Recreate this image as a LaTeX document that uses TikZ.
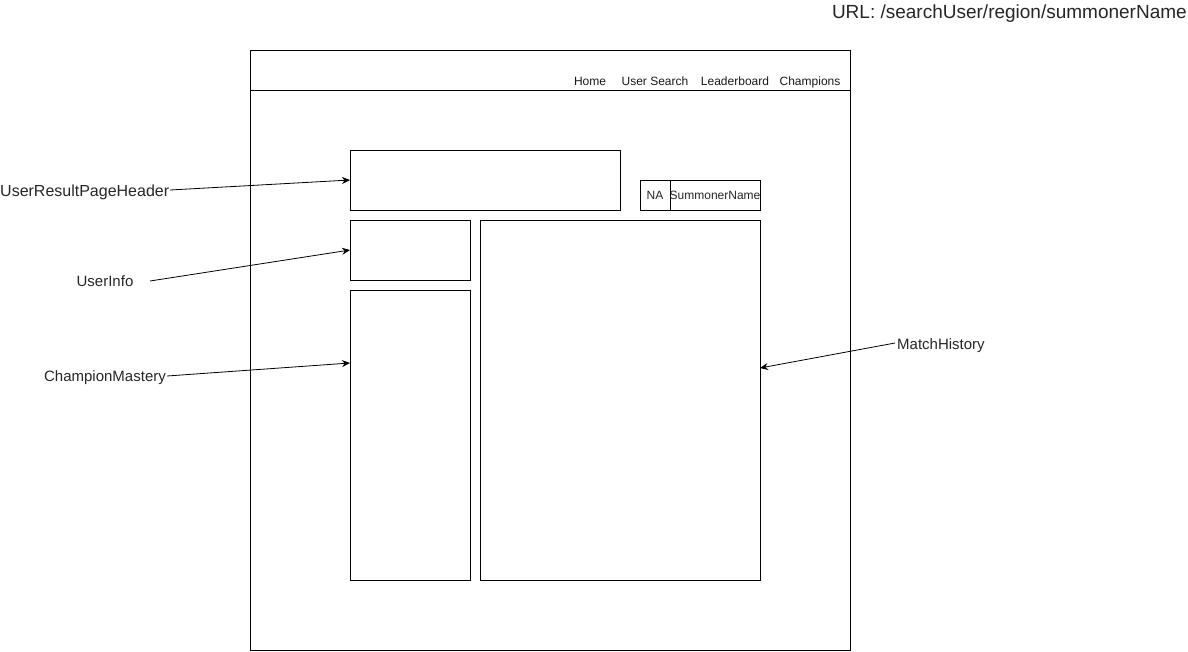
\documentclass[tikz,border=0pt]{standalone}
\usepackage{fontspec}
\setmainfont{Liberation Sans}
\usetikzlibrary{arrows.meta}
\begin{document}
\begin{tikzpicture}[x=1pt,y=-1pt,
  box/.style={draw=black,line width=0.8pt,inner sep=0pt,outer sep=0pt},
  lbl/.style={font=\fontsize{15}{17}\selectfont,text=black!85,inner sep=0pt},
  nav/.style={font=\fontsize{12}{14}\selectfont,text=black!90,inner sep=0pt,anchor=base},
  conn/.style={draw=black,line width=0.8pt,-{Stealth[length=8pt,width=7pt]}}]
\useasboundingbox (0,0) rectangle (1188,651);
% page frame
\node[box,minimum width=600pt,minimum height=600pt,anchor=north west] (frame) at (250,50) {};
\coordinate (hl) at (250,90);
\coordinate (hr) at (850,90);
\draw[line width=0.8pt] (hl) -- (hr);
% nav
\node[nav] (home) at (590,85.5) {Home};
\node[nav] (usearch) at (655,85.5) {User Search};
\node[nav] (lead) at (735,85.5) {Leaderboard};
\node[nav] (champs) at (810,85.5) {Champions};
% boxes
\node[box,minimum width=270pt,minimum height=60pt,anchor=north west] (hdr) at (350,150) {};
\node[box,minimum width=30pt,minimum height=30pt,anchor=north west] (na) at (640,180) {};
\node[box,minimum width=90pt,minimum height=30pt,anchor=north west] (sname) at (670,180) {};
\node[nav,text=black!85] (natext) at (na.center |- 0,199.5) {NA};
\node[nav,text=black!85] (snametext) at (sname.center |- 0,199.5) {SummonerName};
\node[box,minimum width=120pt,minimum height=60pt,anchor=north west] (uinfo) at (350,220) {};
\node[box,minimum width=120pt,minimum height=290pt,anchor=north west] (cmast) at (350,290) {};
\node[box,minimum width=280pt,minimum height=360pt,anchor=north west] (mhist) at (480,220) {};
% labels
\node[lbl,anchor=base west,font=\fontsize{16}{18}\selectfont] (lhdr) at (0,196) {UserResultPageHeader};
\node[lbl,anchor=base] (luinfo) at (105,286) {UserInfo};
\node[lbl,anchor=base] (lcmast) at (105,381.5) {ChampionMastery};
\node[lbl,anchor=base west] (lmhist) at (897,349.5) {MatchHistory};
\node[anchor=base east,inner sep=0pt,font=\fontsize{19}{21}\selectfont,text=black!85] (url) at (1187,18.5) {URL: /searchUser/region/summonerName};
% connector endpoints
\coordinate (s1) at (170,190);
\coordinate (s2) at (150,281);
\coordinate (s3) at (167,376);
\coordinate (s4) at (895,343);
\coordinate (t3) at (350,363);
\coordinate (t4) at (760,368);
\draw[conn] (s1) -- (hdr.west);
\draw[conn] (s2) -- (uinfo.west);
\draw[conn] (s3) -- (t3);
\draw[conn] (s4) -- (t4);
\end{tikzpicture}
\end{document}
